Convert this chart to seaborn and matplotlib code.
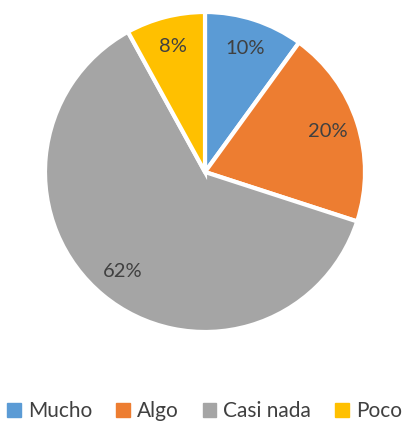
import matplotlib
matplotlib.use("Agg")
import seaborn as sns
import matplotlib.pyplot as plt
import matplotlib.patches as mpatches

# datos
categorias = ["Mucho", "Algo", "Casi nada", "Poco"]
valores = [10, 20, 62, 8]
colores = ["#5B9BD5", "#ED7D31", "#A5A5A5", "#FFC000"]

sns.set_theme(style="white")
plt.rcParams['font.family'] = ['Lato', 'DejaVu Sans']

fig = plt.figure(figsize=(4.09, 4.23), dpi=100)
ax = fig.add_axes([(205 - 160) / 409, (251 - 160) / 423, 320 / 409, 320 / 423])

wedges, textos, pcts = ax.pie(valores, colors=colores, startangle=90, counterclock=False,
                              autopct='%1.0f%%', pctdistance=0.81,
                              wedgeprops=dict(edgecolor='white', linewidth=3),
                              textprops=dict(color='#404040', fontsize=14.5))
ax.set_xlim(-1, 1)
ax.set_ylim(-1, 1)
ax.set_aspect('equal')

patch = [mpatches.Patch(color=colores[i], label=categorias[i]) for i in range(len(categorias))]
fig.legend(handles=patch, loc='center', bbox_to_anchor=(0.5, 0.028), ncol=4, frameon=False,
           handlelength=0.65, handleheight=0.65, handletextpad=0.35, columnspacing=1.15,
           fontsize=15, labelcolor='#404040')

fig.savefig("out.png", dpi=100)
